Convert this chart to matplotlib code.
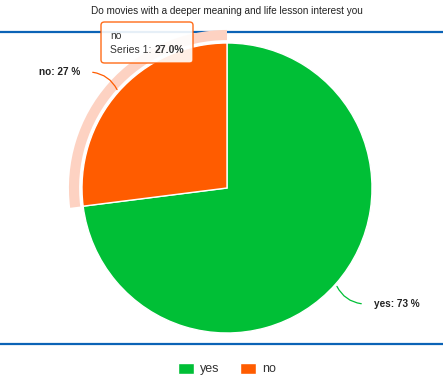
import matplotlib

matplotlib.use("AGG")
import numpy as np
import matplotlib.pyplot as plt
from matplotlib.lines import Line2D
from matplotlib.patches import FancyBboxPatch

plt.rcParams["font.family"] = ["Liberation Sans", "DejaVu Sans"]

# data
labels = ["yes", "no"]
values = [73, 27]
colors = ["#00bf36", "#ff5c00"]
halo_color = "#fdd2c2"
title = "Do movies with a deeper meaning and life lesson interest you"
series_name = "Series 1"
hover_idx = 1  # "no" slice is hovered

W, H = 443, 391
fig = plt.figure(figsize=(W / 100, H / 100), dpi=100)

# pie axes: centre at (227,188) px, radius 145 px, limits +-1.3
r_px = 145
lim = 1.3
side = 2 * lim * r_px
cx, cy = 227, H - 188
ax = fig.add_axes([(cx - side / 2) / W, (cy - side / 2) / H, side / W, side / H])

wedges, _ = ax.pie(
    values,
    colors=colors,
    startangle=90,
    counterclock=False,
    wedgeprops=dict(edgecolor="white", linewidth=1),
)
# hover halo around the "no" slice
halo_cols = ["none"] * len(values)
halo_cols[hover_idx] = halo_color
ax.pie(
    values,
    colors=halo_cols,
    startangle=90,
    counterclock=False,
    radius=1.09,
    wedgeprops=dict(width=0.07, edgecolor="none"),
)
for w in wedges:
    w.set_zorder(3)
ax.set_xlim(-lim, lim)
ax.set_ylim(-lim, lim)
ax.set_aspect("equal")
ax.axis("off")

# data labels with connectors
total = sum(values)
for w, lab, v, c in zip(wedges, labels, values, colors):
    mid = np.deg2rad((w.theta1 + w.theta2) / 2)
    x0, y0 = np.cos(mid), np.sin(mid)
    side_sign = np.sign(x0)
    x1, y1 = 1.26 * x0, 1.21 * y0
    ax.annotate(
        "",
        xy=(x0, y0),
        xytext=(x1, y1),
        arrowprops=dict(arrowstyle="-", color=c, lw=0.9,
                        connectionstyle="arc3,rad=%.2f" % (0.3 * side_sign * np.sign(y0))),
    )
    ax.text(
        x1 + side_sign * 0.07,
        y1,
        "%s: %d %%" % (lab, round(100 * v / total)),
        ha="left" if side_sign > 0 else "right",
        va="center",
        fontsize=7.2,
        fontweight="bold",
        color="#222222",
    )

# title and separator lines
fig.text(cx / W, 1 - 11 / H, title, ha="center", va="center", fontsize=7.2, color="#222222")
for ypx in (32, 344):
    fig.add_artist(Line2D([0, 1], [1 - ypx / H] * 2, transform=fig.transFigure,
                          color="#0b63b6", lw=1.6, zorder=0))

# legend
fig.legend(
    wedges,
    labels,
    loc="center",
    bbox_to_anchor=(cx / W, 1 - 369 / H),
    ncol=2,
    frameon=False,
    fontsize=9,
    handlelength=1.3,
    handleheight=1.0,
    columnspacing=1.6,
    handletextpad=0.5,
    labelcolor="#333333",
)

# tooltip
tx0, ty0, tx1, ty1 = 101, 22, 193, 63
box = FancyBboxPatch(
    (tx0 / W, 1 - ty1 / H), (tx1 - tx0) / W, (ty1 - ty0) / H,
    boxstyle="round,pad=0,rounding_size=0.008",
    transform=fig.transFigure, facecolor="white", alpha=0.9,
    edgecolor=colors[hover_idx], lw=1.0, zorder=10,
)
fig.add_artist(box)
fig.text(110 / W, 1 - 36 / H, labels[hover_idx], ha="left", va="center",
         fontsize=7.5, color="#333333", zorder=11)
t1 = fig.text(110 / W, 1 - 50 / H, series_name + ": ", ha="left", va="center",
              fontsize=7.5, color="#333333", zorder=11)
fig.canvas.draw()
bb = t1.get_window_extent()
fig.text(bb.x1 / W, 1 - 50 / H, "%.1f%%" % (100 * values[hover_idx] / total),
         ha="left", va="center", fontsize=7.5, fontweight="bold",
         color="#333333", zorder=11)

fig.savefig("out.png", dpi=100)
